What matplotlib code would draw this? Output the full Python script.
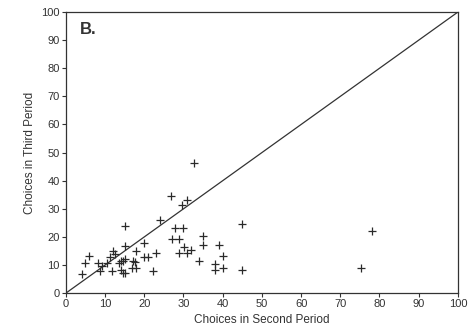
import matplotlib
matplotlib.use("Agg")
import matplotlib.pyplot as plt

plt.rcParams['font.family'] = ['Liberation Sans', 'DejaVu Sans']

second_period = [26.8, 15.1, 24.0, 27.8, 27.0, 28.8, 28.8, 20.0, 15.1, 12.1, 12.5, 11.2,
                 5.9, 4.8, 8.3, 9.1, 10.4, 8.7, 4.0, 14.0, 14.6, 13.6, 15.1, 17.0, 17.6,
                 11.8, 14.0, 14.6, 15.1, 17.9, 18.0, 20.0, 21.0, 23.0, 22.1, 16.8,
                 32.7, 30.8, 29.7, 29.9, 45.0, 35.0, 35.0, 39.0, 30.2, 32.0, 30.8,
                 40.1, 34.0, 38.0, 38.0, 40.1, 45.0, 78.1, 75.2]
third_period = [34.6, 24.0, 26.1, 23.1, 19.1, 19.1, 14.3, 18.0, 16.8, 14.9, 13.9, 12.7,
                13.2, 10.6, 10.6, 9.7, 10.6, 7.9, 6.7, 11.4, 11.4, 10.6, 12.1, 11.4, 11.0,
                7.9, 8.2, 7.0, 7.0, 15.1, 8.8, 12.9, 12.9, 14.3, 7.8, 9.1,
                46.4, 33.3, 31.3, 23.0, 24.6, 20.4, 17.3, 17.3, 16.3, 15.3, 14.3,
                13.2, 11.4, 10.2, 8.4, 9.1, 8.4, 22.1, 8.8]
diag = [0, 100]
xticks = list(range(0, 101, 10))
yticks = list(range(0, 101, 10))

fig = plt.figure(figsize=(4.74, 3.35), dpi=100)
ax = fig.add_axes([0.139, 0.125, 0.827, 0.839])
ax.plot(diag, diag, color='#333333', linewidth=0.9)
ax.plot(second_period, third_period, linestyle='none', marker='+', markersize=5.5,
        markeredgewidth=0.9, color='#2a2a2a')
ax.set_xlim(0, 100)
ax.set_ylim(0, 100)
ax.set_xticks(xticks)
ax.set_yticks(yticks)
ax.tick_params(direction='out', length=3, width=0.8, labelsize=8, colors='#333333', pad=1.5)
for s in ax.spines.values():
    s.set_color('#333333')
    s.set_linewidth(0.9)
ax.set_xlabel('Choices in Second Period', fontsize=8.5, color='#333333', labelpad=3)
ax.set_ylabel('Choices in Third Period', fontsize=8.5, color='#333333', labelpad=4)
ax.text(0.035, 0.965, 'B.', transform=ax.transAxes, fontsize=12, fontweight='bold',
        va='top', ha='left', color='#333333')
fig.savefig('out.png', dpi=100)
